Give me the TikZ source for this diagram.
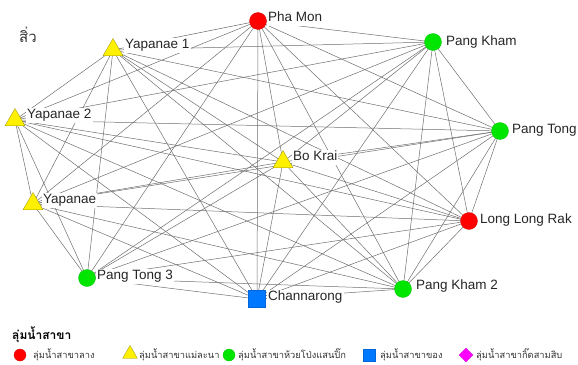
\documentclass[tikz,border=0pt]{standalone}
\usepackage{fontspec}
\setmainfont{Liberation Sans}
\newfontfamily\thaifont[Script=Thai]{Loma}
\usepackage{xcolor}
\usepackage{tikz}
\usetikzlibrary{shapes.geometric, backgrounds}

\definecolor{ptred}{RGB}{255,0,0}
\definecolor{ptyellow}{RGB}{255,240,0}
\definecolor{ptgreen}{RGB}{0,230,0}
\definecolor{ptblue}{RGB}{0,120,255}
\definecolor{ptpink}{RGB}{255,0,255}
\definecolor{linegray}{RGB}{110,110,110}

\begin{document}
\begin{tikzpicture}[
    x=1pt, y=-1pt,
    edge/.style={draw=linegray, line width=0.5pt},
    redpt/.style={circle, fill=ptred, draw=ptred!85!black, line width=0.3pt, minimum size=17pt, inner sep=0pt},
    greenpt/.style={circle, fill=ptgreen, draw=ptgreen!85!black, line width=0.3pt, minimum size=17pt, inner sep=0pt},
    yellowpt/.style={regular polygon, regular polygon sides=3, fill=ptyellow, draw=ptyellow!60!black, line width=0.3pt, minimum size=23pt, inner sep=0pt},
    bluept/.style={rectangle, fill=ptblue, draw=ptblue!85!black, line width=0.3pt, minimum size=17pt, inner sep=0pt},
    pinkpt/.style={diamond, fill=ptpink, draw=ptpink!85!black, line width=0.3pt, minimum size=14pt, inner sep=0pt},
    lbl/.style={anchor=west, fill=white, inner sep=1pt, text height=10pt, text depth=3pt, font=\fontsize{13.5}{15}\selectfont, text=black!85},
    legtext/.style={anchor=west, inner sep=0pt, font=\thaifont\fontsize{9.3}{11}\selectfont, text=black!80},
]
\useasboundingbox (0,0) rectangle (578,364);

% sub-basin nodes
\node[redpt]    (phamon)   at (258,21)  {};
\node[greenpt]  (pangkham) at (433,42)  {};
\node[greenpt]  (pangtong) at (500,131) {};
\node[redpt]    (longlong) at (469,221) {};
\node[greenpt]  (pangkham2) at (403,289) {};
\node[bluept]   (channa)   at (257,299) {};
\node[greenpt]  (pangtong3) at (87,278) {};
\node[yellowpt] (yapanae)  at (33,204)  {};
\node[yellowpt] (yapanae2) at (15,120)  {};
\node[yellowpt] (yapanae1) at (113,50)  {};
\node[yellowpt] (bokrai)   at (283,162) {};

% every pair is linked
\begin{scope}[on background layer]
\foreach \a/\i in {phamon/1, pangkham/2, pangtong/3, longlong/4, pangkham2/5, channa/6, pangtong3/7, yapanae/8, yapanae2/9, yapanae1/10, bokrai/11}
  \foreach \b/\j in {phamon/1, pangkham/2, pangtong/3, longlong/4, pangkham2/5, channa/6, pangtong3/7, yapanae/8, yapanae2/9, yapanae1/10, bokrai/11}
    {\ifnum\j>\i \draw[edge] (\a.center) -- (\b.center); \fi}
\end{scope}

\node[lbl] (lphamon)   at (267,18)  {Pha Mon};
\node[lbl] (lpangkham) at (445,42)  {Pang Kham};
\node[lbl] (lpangtong) at (511,130) {Pang Tong};
\node[lbl] (llonglong) at (479,220) {Long Long Rak};
\node[lbl] (lpangkham2) at (415,286) {Pang Kham 2};
\node[lbl] (lchanna)   at (267,297) {Channarong};
\node[lbl] (lpangtong3) at (96,276) {Pang Tong 3};
\node[lbl] (lyapanae)  at (42,200)  {Yapanae};
\node[lbl] (lyapanae2) at (26,115)  {Yapanae 2};
\node[lbl] (lyapanae1) at (124,45)  {Yapanae 1};
\node[lbl] (lbokrai)   at (292,157) {Bo Krai};

\node[anchor=west, inner sep=0pt, font=\thaifont\fontsize{15}{17}\selectfont, text=black!80] (title) at (19,35) {สิ่ว};

% legend
\node[anchor=west, inner sep=0pt, font=\thaifont\bfseries\fontsize{12}{14}\selectfont] (legtitle) at (12,335) {ลุ่มน้ำสาขา};
\node[redpt, minimum size=12pt]    (kred)    at (20,355)  {};
\node[legtext] (tred)    at (33,355)  {ลุ่มน้ำสาขาลาง};
\node[yellowpt, minimum size=17pt] (kyellow) at (130,354) {};
\node[legtext] (tyellow) at (139,355) {ลุ่มน้ำสาขาแม่ละนา};
\node[greenpt, minimum size=12pt]  (kgreen)  at (229,355) {};
\node[legtext] (tgreen)  at (238,355) {ลุ่มน้ำสาขาห้วยโป่งแสนปิ๊ก};
\node[bluept, minimum size=12pt]   (kblue)   at (369,355) {};
\node[legtext] (tblue)   at (380,355) {ลุ่มน้ำสาขาของ};
\node[pinkpt]  (kpink)   at (466,355) {};
\node[legtext] (tpink)   at (476,355) {ลุ่มน้ำสาขากิ๊ดสามสิบ};

\end{tikzpicture}
\end{document}
